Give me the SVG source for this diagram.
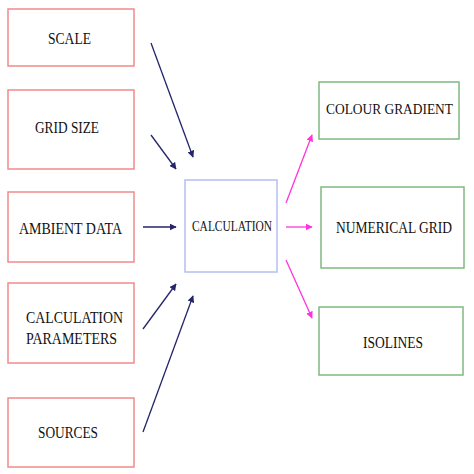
<svg xmlns="http://www.w3.org/2000/svg" width="474" height="474" viewBox="0 0 474 474">
<style>
.in{fill:#fff;stroke:#f08a8a;stroke-width:1.5}
.calc{fill:#fff;stroke:#b4c0f0;stroke-width:1.5}
.out{fill:#fff;stroke:#80b880;stroke-width:1.5}
text{font-family:"Liberation Serif","Times New Roman",serif;font-size:16px;fill:#111;dominant-baseline:central}
.small{font-size:14px}
.nv{stroke:#25256a;stroke-width:1.3;fill:none;marker-end:url(#an)}
.mg{stroke:#ff33dd;stroke-width:1.3;fill:none;marker-end:url(#am)}
</style>
<defs>
<marker id="an" viewBox="0 0 10 10" refX="9" refY="5" markerWidth="7" markerHeight="7" markerUnits="userSpaceOnUse" orient="auto"><path d="M0,0L10,5L0,10z" fill="#25256a"/></marker>
<marker id="am" viewBox="0 0 10 10" refX="9" refY="5" markerWidth="7" markerHeight="7" markerUnits="userSpaceOnUse" orient="auto"><path d="M0,0L10,5L0,10z" fill="#ff33dd"/></marker>
</defs>
<rect width="474" height="474" fill="#fff"/>
<g id="scale"><rect class="in" x="8" y="9" width="126" height="57"/><text x="48" y="38" textLength="43" lengthAdjust="spacingAndGlyphs">SCALE</text></g>
<g id="grid-size"><rect class="in" x="8" y="90" width="126" height="79"/><text x="35" y="127" textLength="64" lengthAdjust="spacingAndGlyphs">GRID SIZE</text></g>
<g id="ambient-data"><rect class="in" x="8" y="192" width="126" height="70"/><text x="19" y="228" textLength="103" lengthAdjust="spacingAndGlyphs">AMBIENT DATA</text></g>
<g id="calculation-parameters"><rect class="in" x="8" y="283" width="126" height="80"/><text x="26" y="317" textLength="97" lengthAdjust="spacingAndGlyphs">CALCULATION</text><text x="26" y="338" textLength="91" lengthAdjust="spacingAndGlyphs">PARAMETERS</text></g>
<g id="sources"><rect class="in" x="8" y="398" width="126" height="69"/><text x="38" y="432" textLength="60" lengthAdjust="spacingAndGlyphs">SOURCES</text></g>
<g id="calculation"><rect class="calc" x="185" y="180" width="92" height="92"/><text class="small" x="192" y="226" textLength="80" lengthAdjust="spacingAndGlyphs">CALCULATION</text></g>
<g id="colour-gradient"><rect class="out" x="319" y="82" width="140" height="57"/><text class="small" x="326" y="109" textLength="127" lengthAdjust="spacingAndGlyphs">COLOUR GRADIENT</text></g>
<g id="numerical-grid"><rect class="out" x="321" y="187" width="143" height="81"/><text x="336" y="227" textLength="116" lengthAdjust="spacingAndGlyphs">NUMERICAL GRID</text></g>
<g id="isolines"><rect class="out" x="319" y="307" width="144" height="68"/><text x="363" y="342" textLength="60" lengthAdjust="spacingAndGlyphs">ISOLINES</text></g>
<g id="connectors">
<path class="nv" d="M151,43L193,157"/>
<path class="nv" d="M151,135L176,169"/>
<path class="nv" d="M143,227L176,227"/>
<path class="nv" d="M143,329L176,284"/>
<path class="nv" d="M143,432L193,296"/>
<path class="mg" d="M286,203L312,135"/>
<path class="mg" d="M286,227L312,227"/>
<path class="mg" d="M286,260L312,318"/>
</g>
</svg>
